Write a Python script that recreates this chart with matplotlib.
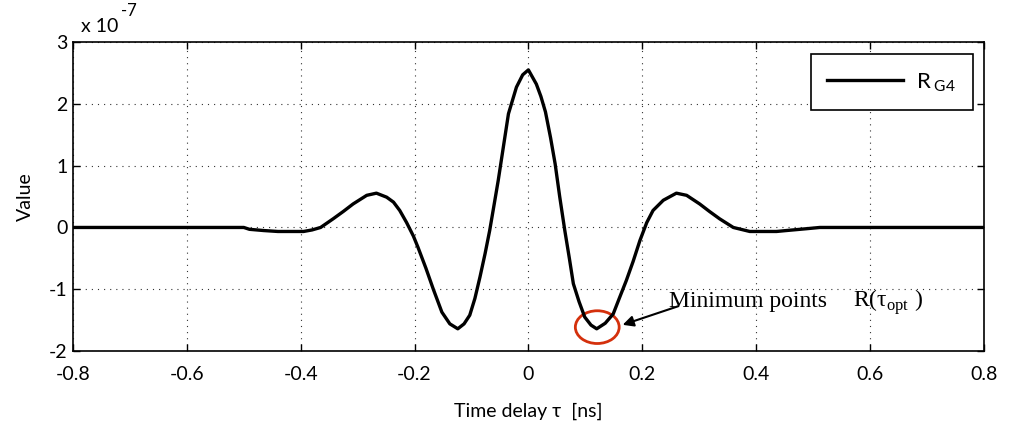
import matplotlib
matplotlib.use("Agg")
import matplotlib.pyplot as plt
from matplotlib.patches import Ellipse

plt.rcParams["font.family"] = ["Lato", "DejaVu Sans"]
plt.rcParams["mathtext.fontset"] = "custom"
plt.rcParams["mathtext.rm"] = "Lato"
plt.rcParams["axes.unicode_minus"] = False

# time delay [ns] and R_G4 autocorrelation (in units of 1e-7)
tau = [-0.8, -0.54, -0.50, -0.49, -0.465, -0.44, -0.395, -0.38, -0.365, -0.343,
       -0.325, -0.308, -0.284, -0.267, -0.249, -0.237, -0.226, -0.214, -0.202, -0.194,
       -0.180, -0.167, -0.152, -0.138, -0.124, -0.113, -0.103, -0.094, -0.085, -0.076,
       -0.068, -0.060, -0.053, -0.044, -0.035, -0.021, -0.010, 0.0, 0.014, 0.022,
       0.030, 0.039, 0.047, 0.055, 0.064, 0.072, 0.079, 0.089, 0.099, 0.110,
       0.120, 0.135, 0.149, 0.160, 0.172, 0.184, 0.196, 0.208, 0.219, 0.237,
       0.260, 0.278, 0.301, 0.318, 0.336, 0.360, 0.389, 0.436, 0.453, 0.489,
       0.512, 0.8]
r_g4 = [0.0, 0.0, 0.0, -0.03, -0.05, -0.065, -0.065, -0.04, 0.0, 0.14,
        0.26, 0.38, 0.52, 0.555, 0.49, 0.41, 0.275, 0.08, -0.14, -0.32,
        -0.66, -1.00, -1.37, -1.56, -1.64, -1.56, -1.42, -1.15, -0.80, -0.42,
        -0.05, 0.38, 0.76, 1.30, 1.84, 2.27, 2.47, 2.55, 2.32, 2.12,
        1.87, 1.45, 1.03, 0.50, -0.05, -0.50, -0.91, -1.20, -1.45, -1.58,
        -1.64, -1.55, -1.40, -1.14, -0.86, -0.55, -0.21, 0.08, 0.275, 0.44,
        0.555, 0.52, 0.38, 0.26, 0.14, 0.0, -0.065, -0.065, -0.05, -0.02,
        0.0, 0.0]

x_ticks = [-0.8, -0.6, -0.4, -0.2, 0, 0.2, 0.4, 0.6, 0.8]
x_tick_labels = ["-0.8", "-0.6", "-0.4", "-0.2", "0", "0.2", "0.4", "0.6", "0.8"]
y_ticks = [-2, -1, 0, 1, 2, 3]

fig = plt.figure(figsize=(10.1, 4.25), dpi=100)
ax = fig.add_axes([0.0723, 0.174, 0.9017, 0.727])

ax.plot(tau, r_g4, color="black", linewidth=2.4, label=r"R$\,_{\mathregular{G4}}$")

ax.set_xlim(-0.8, 0.8)
ax.set_ylim(-2, 3)
ax.set_xticks(x_ticks)
ax.set_xticklabels(x_tick_labels)
ax.set_yticks(y_ticks)
ax.tick_params(direction="in", length=5, width=1, top=True, right=True, labelsize=14)
ax.tick_params(axis="x", pad=11)
ax.tick_params(axis="y", pad=4)
for s in ax.spines.values():
    s.set_linewidth(1.2)
ax.grid(True, color="#333333", linestyle=(0, (1, 4.5)), linewidth=0.8)

ax.set_xlabel("Time delay τ  [ns]", fontsize=14, labelpad=14)
ax.set_ylabel("Value", fontsize=14, labelpad=11)

fig.text(81 / 1010, 1 - 32 / 425, "x 10", fontsize=14, va="baseline")
fig.text(121 / 1010, 1 - 16 / 425, "-7", fontsize=12, va="baseline")

# minimum point marker and annotation
ax.add_patch(Ellipse((0.121, -1.613), 0.077, 0.53, fill=False,
                     edgecolor="#d4300c", linewidth=2))
ax.annotate("", xy=(0.161, -1.59), xytext=(0.268, -1.26),
            arrowprops=dict(arrowstyle="-|>", color="black", lw=1.5, mutation_scale=16))
ax.text(0.247, -1.28, "Minimum points", family="Liberation Serif",
        fontsize=17, va="baseline")
ax.text(0.570, -1.28, r"R(τ$_{\mathregular{opt}}$ )", family="Liberation Serif",
        fontsize=17, va="baseline")

leg = ax.legend(loc="upper right", bbox_to_anchor=(972.7 / 1010, 1 - 54.3 / 425),
                bbox_transform=fig.transFigure, fontsize=16, fancybox=False,
                framealpha=1, edgecolor="black", handlelength=3.4,
                handletextpad=0.6, borderpad=0.75, borderaxespad=0)
leg.get_frame().set_linewidth(1.2)

fig.savefig("out.png", dpi=100)
